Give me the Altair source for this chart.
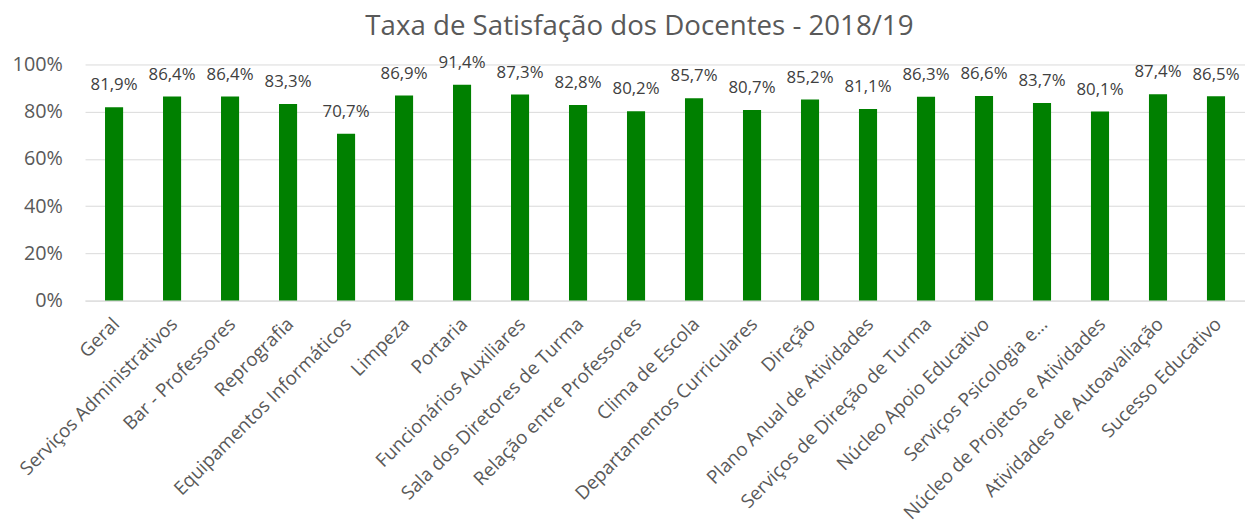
import altair as alt
import pandas as pd

categories = [
    "Geral", "Serviços Administrativos", "Bar - Professores", "Reprografia",
    "Equipamentos Informáticos", "Limpeza", "Portaria", "Funcionários Auxiliares",
    "Sala dos Diretores de Turma", "Relação entre Professores", "Clima de Escola",
    "Departamentos Curriculares", "Direção", "Plano Anual de Atividades",
    "Serviços de Direção de Turma", "Núcleo Apoio Educativo", "Serviços Psicologia e...",
    "Núcleo de Projetos e Atividades", "Atividades de Autoavaliação", "Sucesso Educativo",
]
values = [81.9, 86.4, 86.4, 83.3, 70.7, 86.9, 91.4, 87.3, 82.8, 80.2,
          85.7, 80.7, 85.2, 81.1, 86.3, 86.6, 83.7, 80.1, 87.4, 86.5]

df = pd.DataFrame({
    "cat": categories,
    "val": [v / 100 for v in values],
    "lab": [f"{v:.1f}%".replace(".", ",") for v in values],
})

FONT = "Open Sans"
GREY = "#595959"

x = alt.X("cat:N", sort=categories, title=None,
          scale=alt.Scale(paddingInner=0.688, paddingOuter=0.344, range=[0, 1174]),
          axis=alt.Axis(labelAngle=-45, labelFontSize=19, labelColor=GREY, labelFont=FONT,
                        labelLimit=400, ticks=False, domain=True, domainColor="#d9d9d9",
                        labelPadding=14, labelOffset=-4))
y = alt.Y("val:Q", title=None, scale=alt.Scale(domain=[0, 1]),
          axis=alt.Axis(format="%", values=[0, 0.2, 0.4, 0.6, 0.8, 1.0], labelFontSize=20,
                        labelColor=GREY, labelFont=FONT, ticks=False, domain=False,
                        gridColor="#d9d9d9", gridWidth=1, labelPadding=23))

bars = alt.Chart(df).mark_bar(color="#008000").encode(x=x, y=y)
text = alt.Chart(df).mark_text(baseline="bottom", dy=-13, fontSize=17, color="#404040",
                               font=FONT).encode(
    x=alt.X("cat:N", sort=categories), y="val:Q", text="lab:N")

chart = (bars + text).properties(
    width=1160, height=239, padding={"left": 4, "top": 2, "right": 0, "bottom": 0},
    title=alt.TitleParams("Taxa de Satisfação dos Docentes - 2018/19", fontSize=28,
                          color=GREY, font=FONT, fontWeight="normal", anchor="middle",
                          frame="bounds", offset=13, dx=11),
).configure_view(stroke=None)

chart.save("out.html", embed_options={"renderer": "svg", "actions": False})
